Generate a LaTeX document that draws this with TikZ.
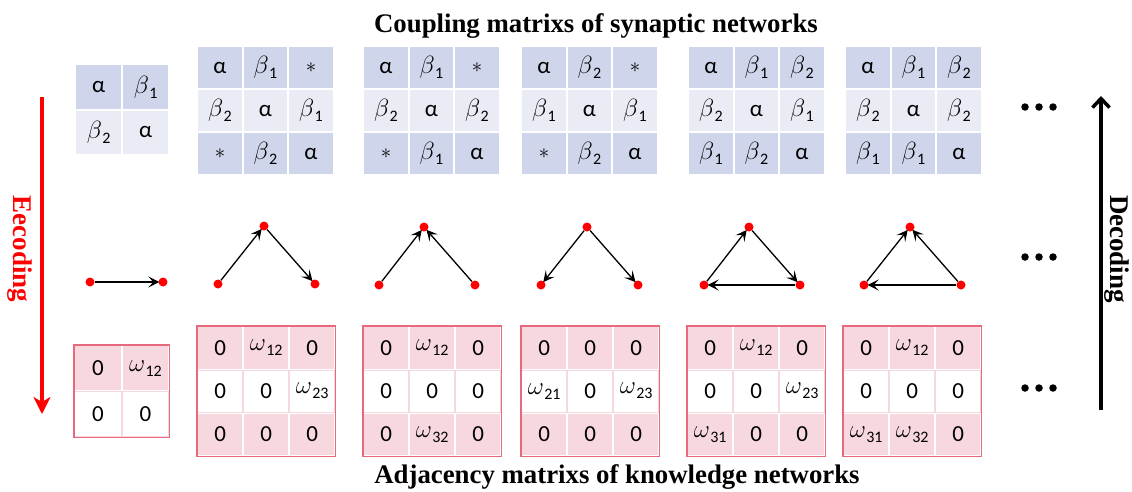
\documentclass[tikz,border=0pt]{standalone}
\usepackage{fontspec}
\setmainfont{Liberation Serif}
\newfontfamily\cellfont{Carlito}
\usetikzlibrary{matrix,arrows.meta}
\definecolor{cdark}{HTML}{CFD5EA}
\definecolor{clight}{HTML}{E9EBF5}
\definecolor{apink}{HTML}{F8D8DF}
\definecolor{aborder}{HTML}{E8687C}
\newcommand{\st}{{\fontsize{20}{20}\selectfont$\ast$}}
\newcommand{\gsub}[2]{$#1$\kern0.5pt\raisebox{-5pt}{\fontsize{16}{16}\selectfont #2}}
\newcommand{\bo}{\gsub{\beta}{1}}
\newcommand{\bt}{\gsub{\beta}{2}}
\newcommand{\w}[1]{\gsub{\omega}{#1}}
\tikzset{
  cellbase/.style={line width=1pt, inner sep=0pt, anchor=center,
    font=\cellfont\fontsize{23}{26}\selectfont},
  cmat/.style={matrix of nodes, inner sep=0pt, column sep=0pt, row sep=0pt, anchor=north west,
    nodes={cellbase, draw=white, minimum width=44.5pt, minimum height=42pt},
    row 1/.style={nodes={fill=cdark}}, row 2/.style={nodes={fill=clight}}, row 3/.style={nodes={fill=cdark}}},
  cmatsmall/.style={cmat, nodes={minimum width=46pt, minimum height=44.5pt}},
  amat/.style={matrix of nodes, inner sep=0pt, column sep=0pt, row sep=0pt, anchor=north west,
    nodes={cellbase, draw=white, minimum width=45pt, minimum height=42.3pt},
    row 1/.style={nodes={fill=apink}}, row 2/.style={nodes={fill=white, draw=apink}}, row 3/.style={nodes={fill=apink}}},
  amatsmall/.style={amat, nodes={minimum width=46.5pt, minimum height=45pt}},
  aframe/.style={draw=aborder, line width=1.2pt},
  dot/.style={circle, fill=red, inner sep=0pt, minimum size=9pt},
  edge/.style={line width=1.3pt, -{Stealth[length=11pt,width=11pt,inset=5pt]}, shorten >=-1pt},
  ell/.style={circle, fill=black, inner sep=0pt, minimum size=7.5pt},
  title/.style={anchor=base, font=\bfseries\fontsize{26.8}{30}\selectfont},
  sidelabel/.style={rotate=-90, font=\bfseries\fontsize{27}{30}\selectfont},
}
\begin{document}
\begin{tikzpicture}[x=1pt,y=-1pt]
\useasboundingbox (0,0) rectangle (1132,491);

% titles
\node[title] (ttop) at (596,32) {Coupling matrixs of synaptic networks};
\node[title] (tbot) at (617,483) {Adjacency matrixs of knowledge networks};

% coupling matrices
\matrix (c0) [cmatsmall] at (75,64) {
α & \bo \\
\bt & α \\
};
\matrix (c1) [cmat] at (197,46) {
α & \bo & \st \\
\bt & α & \bo \\
\st & \bt & α \\
};
\matrix (c2) [cmat] at (363,46) {
α & \bo & \st \\
\bt & α & \bt \\
\st & \bo & α \\
};
\matrix (c3) [cmat] at (521,46) {
α & \bt & \st \\
\bo & α & \bo \\
\st & \bt & α \\
};
\matrix (c4) [cmat] at (688,46) {
α & \bo & \bt \\
\bt & α & \bo \\
\bo & \bt & α \\
};
\matrix (c5) [cmat] at (845,46) {
α & \bo & \bt \\
\bt & α & \bt \\
\bo & \bo & α \\
};

% adjacency matrices
\matrix (a0) [amatsmall] at (74,345) {
0 & \w{12} \\
0 & 0 \\
};
\matrix (a1) [amat] at (197,326) {
0 & \w{12} & 0 \\
0 & 0 & \w{23} \\
0 & 0 & 0 \\
};
\matrix (a2) [amat] at (363,326) {
0 & \w{12} & 0 \\
0 & 0 & 0 \\
0 & \w{32} & 0 \\
};
\matrix (a3) [amat] at (521,326) {
0 & 0 & 0 \\
\w{21} & 0 & \w{23} \\
0 & 0 & 0 \\
};
\matrix (a4) [amat] at (687,326) {
0 & \w{12} & 0 \\
0 & 0 & \w{23} \\
\w{31} & 0 & 0 \\
};
\matrix (a5) [amat] at (843,326) {
0 & \w{12} & 0 \\
0 & 0 & 0 \\
\w{31} & \w{32} & 0 \\
};
\foreach \m in {a0,a1,a2,a3,a4,a5}
  \draw[aframe] (\m.north west) rectangle (\m.south east);

% graphs
\node[dot] (g0a) at (90,282) {};
\node[dot] (g0b) at (163,282) {};
\draw[edge] (g0a) -- (g0b);

\node[dot] (g1l) at (218,284) {};
\node[dot] (g1t) at (264,226) {};
\node[dot] (g1r) at (315,284) {};
\draw[edge] (g1l) -- (g1t);
\draw[edge] (g1t) -- (g1r);

\node[dot] (g2l) at (379,285) {};
\node[dot] (g2t) at (424,227) {};
\node[dot] (g2r) at (475,285) {};
\draw[edge] (g2l) -- (g2t);
\draw[edge] (g2r) -- (g2t);

\node[dot] (g3l) at (541,285) {};
\node[dot] (g3t) at (587,227) {};
\node[dot] (g3r) at (638,285) {};
\draw[edge] (g3t) -- (g3l);
\draw[edge] (g3t) -- (g3r);

\node[dot] (g4l) at (704,285) {};
\node[dot] (g4t) at (749,227) {};
\node[dot] (g4r) at (800,285) {};
\draw[edge] (g4l) -- (g4t);
\draw[edge] (g4t) -- (g4r);
\draw[edge] (g4r) -- (g4l);

\node[dot] (g5l) at (864,285) {};
\node[dot] (g5t) at (910,227) {};
\node[dot] (g5r) at (961,285) {};
\draw[edge] (g5l) -- (g5t);
\draw[edge] (g5r) -- (g5t);
\draw[edge] (g5r) -- (g5l);

% ellipses
\foreach \y/\k in {107/1,257/2,388/3} {
  \node[ell] (e\k a) at (1025,\y) {};
  \node[ell] (e\k b) at (1039,\y) {};
  \node[ell] (e\k c) at (1053,\y) {};
}

% side arrows
\coordinate (es) at (42,97);
\coordinate (ee) at (42,414);
\draw[draw=red, line width=4pt, -{Stealth[length=17pt,width=17pt,inset=5pt,fill=red]}] (es) -- (ee);
\node[sidelabel, text=red] (etext) at (20,249) {Eecoding};

\coordinate (ds) at (1101,410);
\coordinate (de) at (1101,96);
\draw[line width=3.5pt, -{Straight Barb[length=9pt,width=17pt]}] (ds) -- (de);
\node[sidelabel] (dtext) at (1117,249) {Decoding};
\end{tikzpicture}
\end{document}
